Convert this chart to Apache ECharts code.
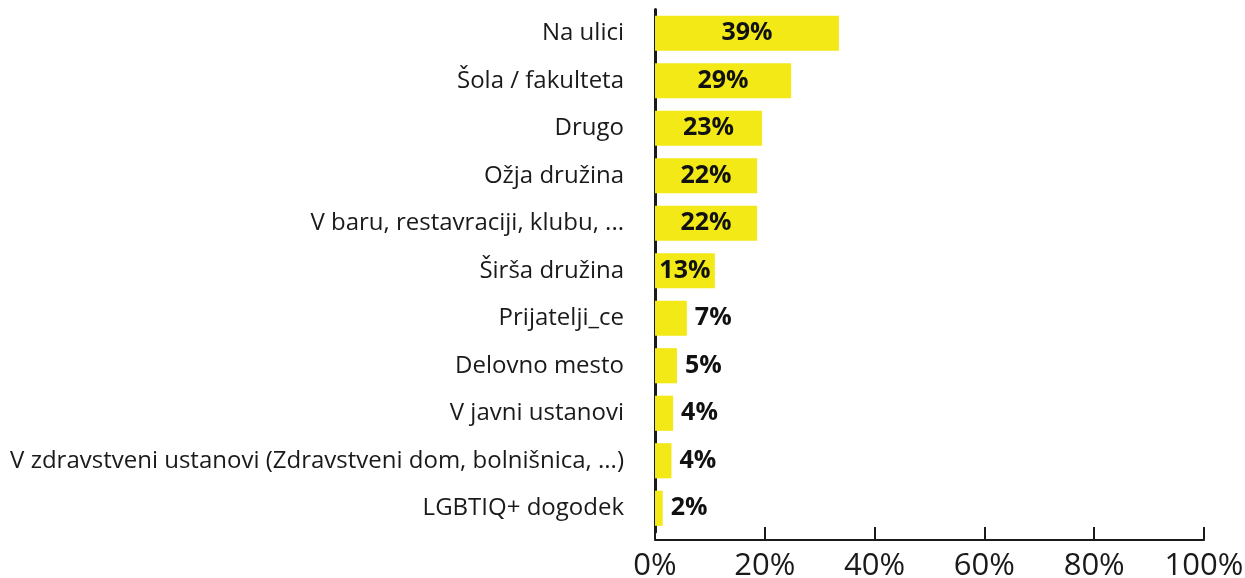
<!DOCTYPE html>
<html>
<head>
<meta charset="utf-8">
<script src="https://cdn.jsdelivr.net/npm/echarts@6/dist/echarts.min.js"></script>
<style>
html,body{margin:0;padding:0;background:#fff;}
#chart{width:1245px;height:578px;}
</style>
</head>
<body>
<div id="chart"></div>
<script>
// kategorije (od zgoraj navzdol)
var categories = ['Na ulici', 'Šola / fakulteta', 'Drugo', 'Ožja družina', 'V baru, restavraciji, klubu, ...',
    'Širša družina', 'Prijatelji_ce', 'Delovno mesto', 'V javni ustanovi',
    'V zdravstveni ustanovi (Zdravstveni dom, bolnišnica, ...)', 'LGBTIQ+ dogodek'];
// dolzine stolpcev, odcitane z osi
var barValues = [33.5, 24.8, 19.5, 18.6, 18.6, 10.9, 5.8, 4.0, 3.3, 3.0, 1.4];
// napisi na stolpcih
var barLabels = ['39%', '29%', '23%', '22%', '22%', '13%', '7%', '5%', '4%', '4%', '2%'];
// oznake na osi x
var xTicks = [0, 20, 40, 60, 80, 100];

var font = '"Open Sans", "Noto Sans", sans-serif';

function libbar(id) {
    if (document.getElementById(id)) {
        var myChart = echarts.init(document.getElementById(id));
        var data = [];
        $each(barValues, function (i, v) {
            var inside = v >= 10;
            data.push({
                value: v,
                label: {
                    position: inside ? 'inside' : 'right',
                    distance: 8,
                    formatter: barLabels[i]
                }
            });
        });
        var option = {
            animation: false,
            grid: {
                left: 655,
                right: 41,
                top: 9.5,
                bottom: 46,
                containLabel: false,
                outerBoundsMode: 'none'
            },
            xAxis: {
                type: 'value',
                min: xTicks[0],
                max: xTicks[xTicks.length - 1],
                interval: 20,
                offset: 8,
                splitLine: { show: false },
                axisLine: { show: true, lineStyle: { color: '#1a1a1a', width: 2 } },
                axisTick: { show: true, inside: true, length: 13, lineStyle: { color: '#1a1a1a', width: 2 } },
                axisLabel: {
                    formatter: '{value}%',
                    fontFamily: font,
                    fontSize: 31,
                    color: '#1a1a1a',
                    margin: 11
                }
            },
            yAxis: {
                type: 'category',
                inverse: true,
                data: categories,
                axisLine: { show: true, lineStyle: { color: '#1a1a1a', width: 3 } },
                axisTick: { show: false },
                axisLabel: {
                    fontFamily: font,
                    fontSize: 24,
                    color: '#1a1a1a',
                    margin: 31,
                    padding: [4, 0, 0, 0]
                }
            },
            series: [{
                type: 'bar',
                data: data,
                barCategoryGap: '26%',
                itemStyle: { color: '#f2e916' },
                label: {
                    show: true,
                    fontFamily: font,
                    fontSize: 25,
                    fontWeight: 'bold',
                    color: '#111',
                    padding: [3, 0, 0, 0]
                }
            }]
        };
        myChart.setOption(option);
    }
}

function $each(arr, fn) {
    for (var i = 0; i < arr.length; i++) {
        fn(i, arr[i]);
    }
}

libbar('chart');
</script>
</body>
</html>
